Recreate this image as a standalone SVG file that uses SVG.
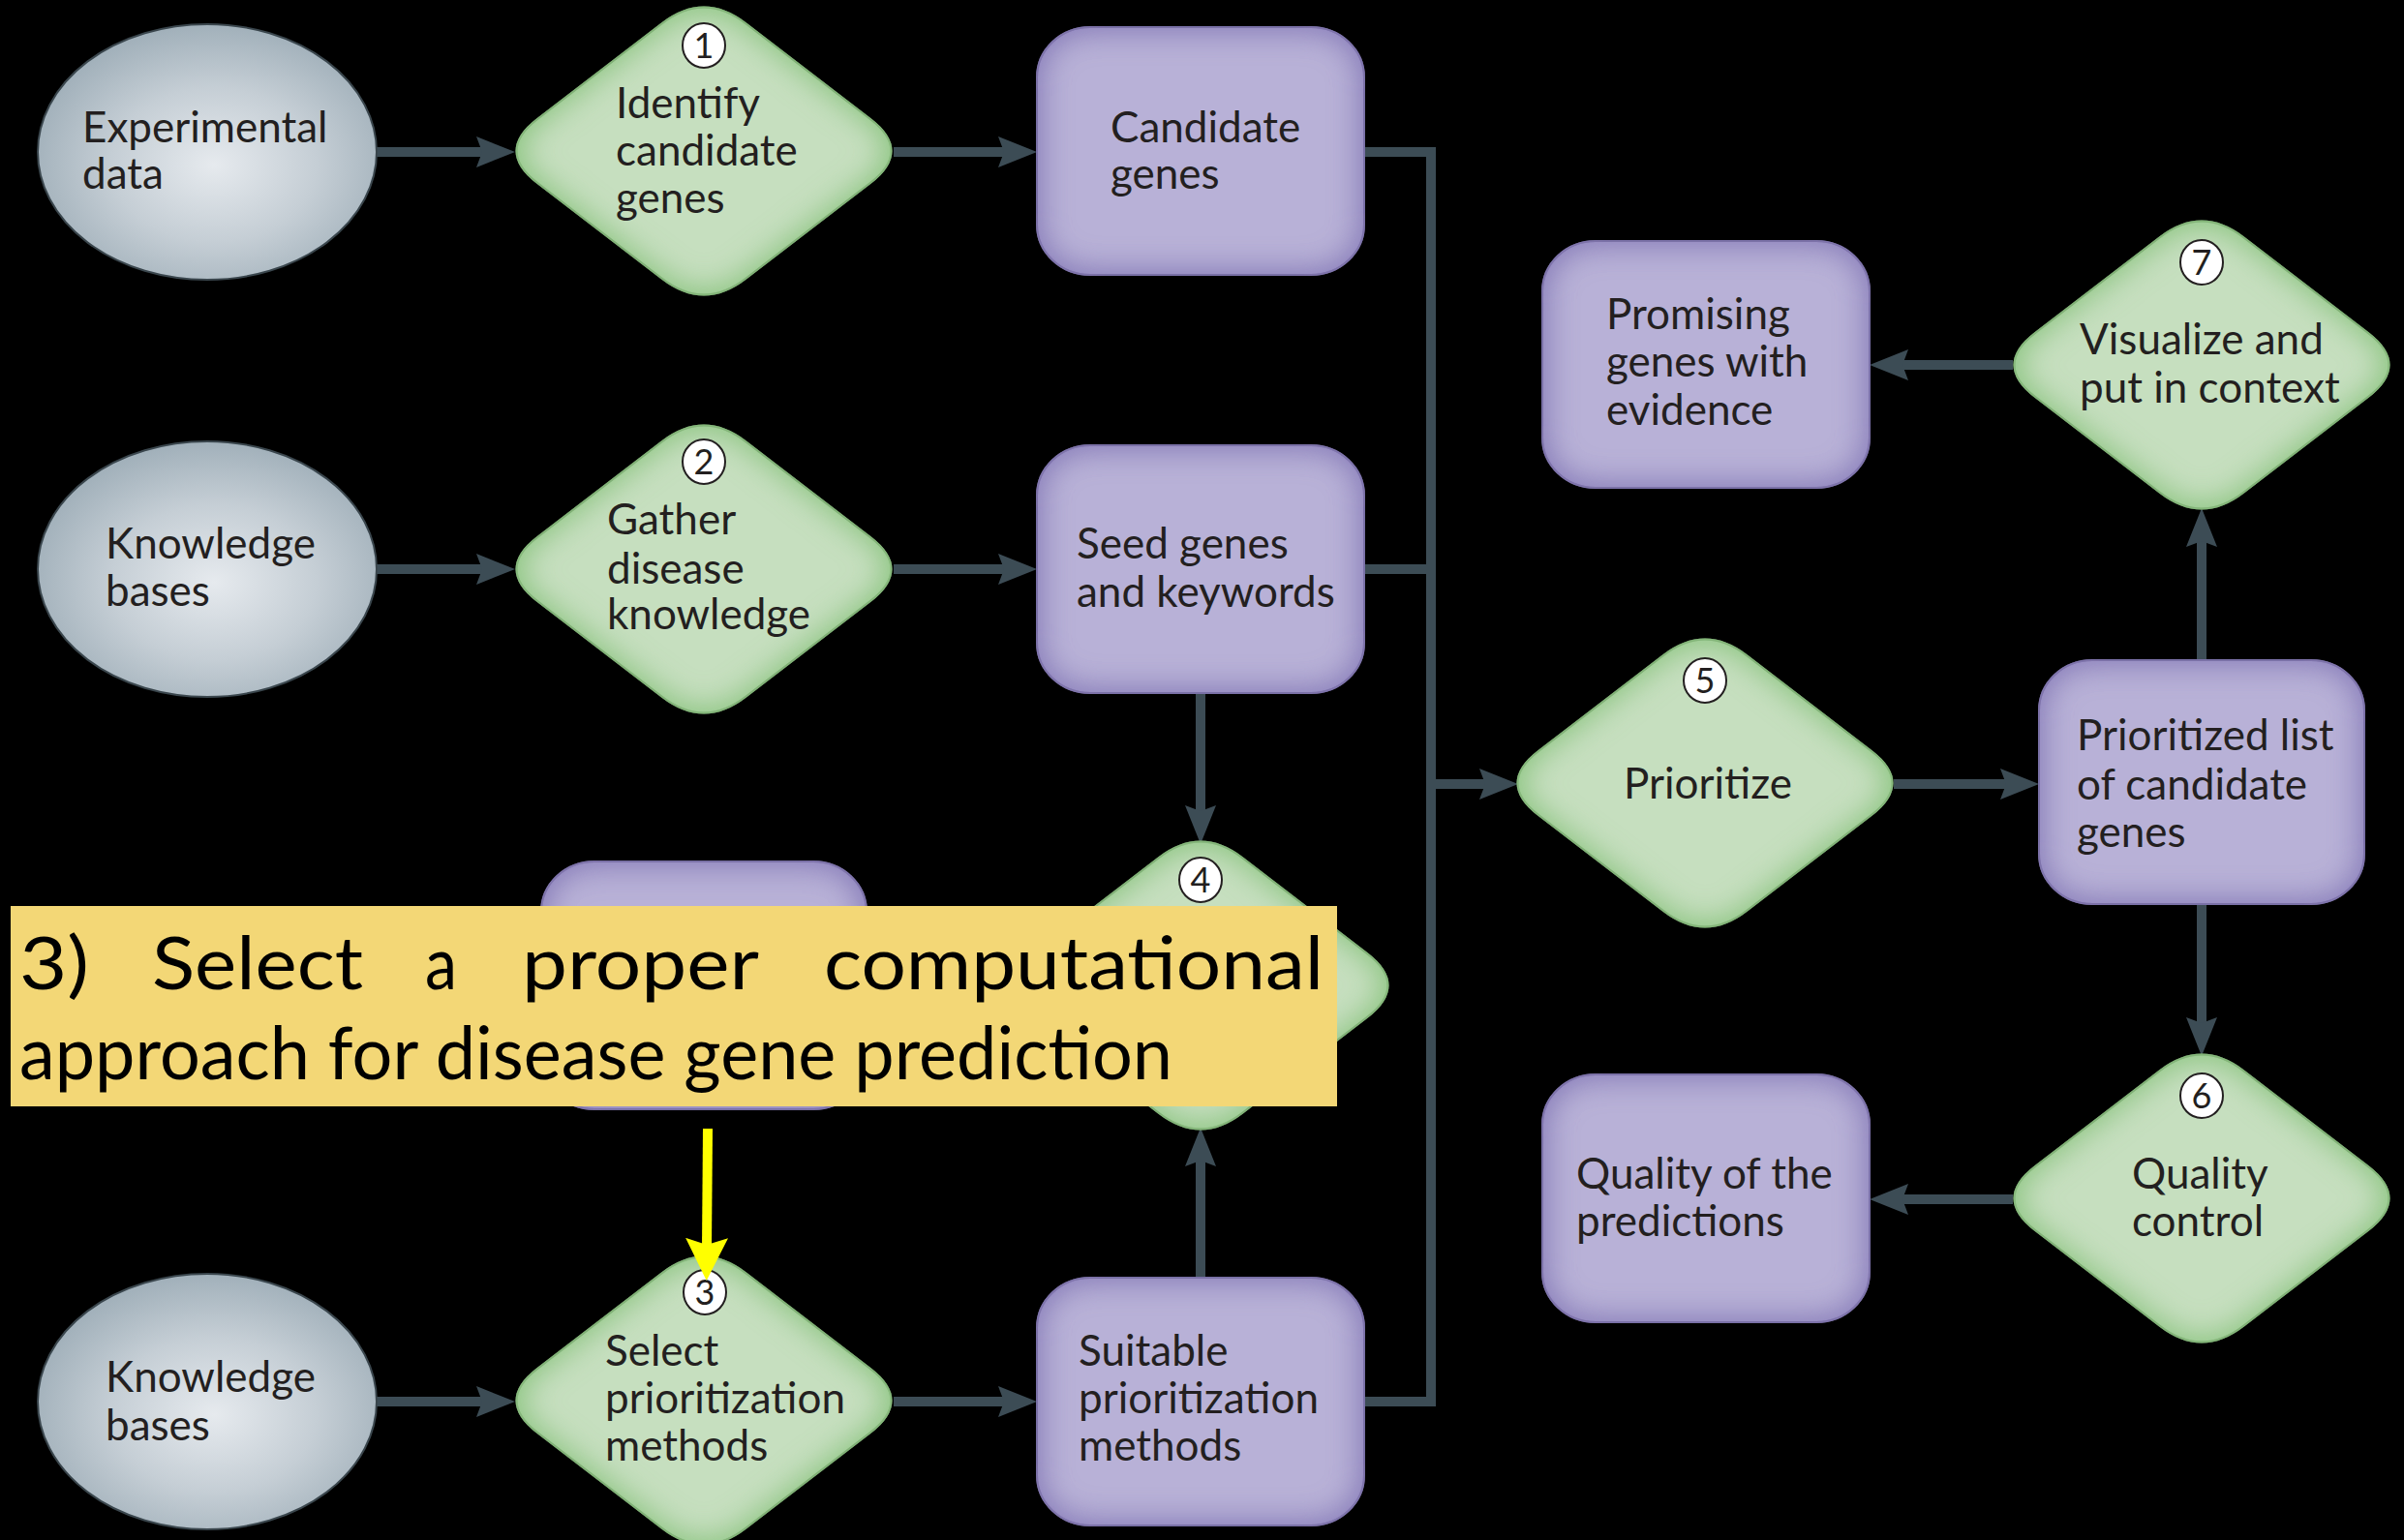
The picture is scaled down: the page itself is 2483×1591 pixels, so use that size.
<svg xmlns="http://www.w3.org/2000/svg" xmlns:xlink="http://www.w3.org/1999/xlink" width="2483" height="1591" viewBox="0 0 2483 1591">
<style>
.lbl{font-family:Lato,"Liberation Sans",sans-serif;font-size:44px;fill:#231f20}
.num{font-family:Lato,"Liberation Sans",sans-serif;font-size:36px;fill:#231f20;text-anchor:middle}
.badge{fill:#ffffff;stroke:#231f20;stroke-width:2}
.ell{fill:url(#gEll);stroke:#3a464d;stroke-width:2}
.dia{fill:#c6dfbf;stroke:#3d5239;stroke-width:2;filter:url(#glowG)}
.box{fill:#b8b1d7;stroke:#3b3550;stroke-width:2;filter:url(#glowP)}
.con{fill:none;stroke:#3c4c55;stroke-width:10;marker-end:url(#ah)}
.bus{fill:none;stroke:#3c4c55;stroke-width:10}
.note{font-family:Lato,"Liberation Sans",sans-serif;font-size:76px;fill:#000000}
</style>
<defs>
<radialGradient id="gEll" cx="0.52" cy="0.55" r="0.55">
<stop offset="0" stop-color="#e6eaee"/>
<stop offset="0.55" stop-color="#c5ced5"/>
<stop offset="1" stop-color="#a1b0ba"/>
</radialGradient>
<filter id="glowG" x="-30%" y="-30%" width="160%" height="160%">
<feFlood flood-color="#92c886" result="c"/>
<feComposite in="c" in2="SourceAlpha" operator="out" result="o"/>
<feGaussianBlur in="o" stdDeviation="17" result="b"/>
<feComposite in="b" in2="SourceAlpha" operator="in" result="i"/>
<feMerge><feMergeNode in="SourceGraphic"/><feMergeNode in="i"/><feMergeNode in="i"/></feMerge>
</filter>
<filter id="glowP" x="-30%" y="-30%" width="160%" height="160%">
<feFlood flood-color="#8b80bc" result="c"/>
<feComposite in="c" in2="SourceAlpha" operator="out" result="o"/>
<feGaussianBlur in="o" stdDeviation="17" result="b"/>
<feComposite in="b" in2="SourceAlpha" operator="in" result="i"/>
<feMerge><feMergeNode in="SourceGraphic"/><feMergeNode in="i"/><feMergeNode in="i"/></feMerge>
</filter>
<path id="dshape" d="M43,-132 L172,-33 Q215,0 172,33 L43,132 Q0,165 -43,132 L-172,33 Q-215,0 -172,-33 L-43,-132 Q0,-165 43,-132 Z"/>
<marker id="ah" viewBox="0 0 40 32" refX="10" refY="16" markerWidth="40" markerHeight="32" markerUnits="userSpaceOnUse" orient="auto">
<path d="M0,0 L40,16 L0,32 L6,16 Z" fill="#3c4c55"/>
</marker>
<marker id="ahY" viewBox="0 0 44 44" refX="11" refY="22" markerWidth="44" markerHeight="44" markerUnits="userSpaceOnUse" orient="auto">
<path d="M0,0 L44,22 L0,44 L7,22 Z" fill="#ffff00"/>
</marker>
</defs>
<rect x="0" y="0" width="2483" height="1591" fill="#000000"/>

<g id="connectors">
<path class="con" d="M388,157 L502,157"/>
<path class="con" d="M923,157 L1041,157"/>
<path class="con" d="M388,588 L502,588"/>
<path class="con" d="M923,588 L1041,588"/>
<path class="con" d="M388,1448 L502,1448"/>
<path class="con" d="M923,1448 L1041,1448"/>
<path class="bus" d="M1409,157 L1478,157 L1478,1448 L1409,1448"/>
<path class="bus" d="M1409,588 L1478,588"/>
<path class="con" d="M1478,810 L1538,810"/>
<path class="con" d="M1240,716 L1240,842"/>
<path class="con" d="M1240,1320 L1240,1195"/>
<path class="con" d="M1956,810 L2076,810"/>
<path class="con" d="M2274,682 L2274,555"/>
<path class="con" d="M2274,934 L2274,1061"/>
<path class="con" d="M2079,377 L1961,377"/>
<path class="con" d="M2079,1239 L1961,1239"/>
</g>

<g id="n-experimental">
<ellipse class="ell" cx="214" cy="157" rx="175" ry="132"/>
<text class="lbl"><tspan x="85" y="147">Experimental</tspan><tspan x="85" y="195">data</tspan></text>
</g>
<g id="n-identify">
<use xlink:href="#dshape" class="dia" transform="translate(727,156)"/>
<ellipse class="badge" cx="727" cy="47" rx="22" ry="23"/>
<text class="num" x="727" y="60">1</text>
<text class="lbl"><tspan x="636" y="122">Identify</tspan><tspan x="636" y="171">candidate</tspan><tspan x="636" y="220">genes</tspan></text>
</g>
<g id="n-candidate">
<rect class="box" x="1071" y="28" width="338" height="256" rx="55" ry="52"/>
<text class="lbl"><tspan x="1147" y="147">Candidate</tspan><tspan x="1147" y="195">genes</tspan></text>
</g>

<g id="n-kb1">
<ellipse class="ell" cx="214" cy="588" rx="175" ry="132"/>
<text class="lbl"><tspan x="109" y="577">Knowledge</tspan><tspan x="109" y="626">bases</tspan></text>
</g>
<g id="n-gather">
<use xlink:href="#dshape" class="dia" transform="translate(727,588)"/>
<ellipse class="badge" cx="727" cy="477" rx="22" ry="23"/>
<text class="num" x="727" y="490">2</text>
<text class="lbl"><tspan x="627" y="552">Gather</tspan><tspan x="627" y="603">disease</tspan><tspan x="627" y="650">knowledge</tspan></text>
</g>
<g id="n-seed">
<rect class="box" x="1071" y="460" width="338" height="256" rx="55" ry="52"/>
<text class="lbl"><tspan x="1112" y="577">Seed genes</tspan><tspan x="1112" y="627">and keywords</tspan></text>
</g>

<g id="n-hidden">
<rect class="box" x="559" y="890" width="336" height="256" rx="55" ry="52"/>
</g>
<g id="n-step4">
<use xlink:href="#dshape" class="dia" transform="translate(1240,1018)"/>
<ellipse class="badge" cx="1240" cy="909" rx="22" ry="23"/>
<text class="num" x="1240" y="922">4</text>
</g>

<g id="n-kb2">
<ellipse class="ell" cx="214" cy="1448" rx="175" ry="132"/>
<text class="lbl"><tspan x="109" y="1438">Knowledge</tspan><tspan x="109" y="1488">bases</tspan></text>
</g>
<g id="n-select">
<use xlink:href="#dshape" class="dia" transform="translate(727,1447)"/>
<ellipse class="badge" cx="728" cy="1335" rx="22" ry="23"/>
<text class="num" x="728" y="1348">3</text>
<text class="lbl"><tspan x="625" y="1411">Select</tspan><tspan x="625" y="1460">prioritization</tspan><tspan x="625" y="1509">methods</tspan></text>
</g>
<g id="n-suitable">
<rect class="box" x="1071" y="1320" width="338" height="256" rx="55" ry="52"/>
<text class="lbl"><tspan x="1114" y="1411">Suitable</tspan><tspan x="1114" y="1460">prioritization</tspan><tspan x="1114" y="1509">methods</tspan></text>
</g>

<g id="n-prioritize">
<use xlink:href="#dshape" class="dia" transform="translate(1761,809)"/>
<ellipse class="badge" cx="1761" cy="703" rx="22" ry="23"/>
<text class="num" x="1761" y="716">5</text>
<text class="lbl"><tspan x="1677" y="825">Prioritize</tspan></text>
</g>
<g id="n-list">
<rect class="box" x="2106" y="682" width="336" height="252" rx="55" ry="52"/>
<text class="lbl"><tspan x="2145" y="775">Prioritized list</tspan><tspan x="2145" y="826">of candidate</tspan><tspan x="2145" y="875">genes</tspan></text>
</g>
<g id="n-visualize">
<use xlink:href="#dshape" class="dia" transform="translate(2274,377)"/>
<ellipse class="badge" cx="2274" cy="271" rx="22" ry="23"/>
<text class="num" x="2274" y="284">7</text>
<text class="lbl"><tspan x="2148" y="366">Visualize and</tspan><tspan x="2148" y="416">put in context</tspan></text>
</g>
<g id="n-promising">
<rect class="box" x="1593" y="249" width="338" height="255" rx="55" ry="52"/>
<text class="lbl"><tspan x="1659" y="340">Promising</tspan><tspan x="1659" y="389">genes with</tspan><tspan x="1659" y="439">evidence</tspan></text>
</g>
<g id="n-qc">
<use xlink:href="#dshape" class="dia" transform="translate(2274,1238)"/>
<ellipse class="badge" cx="2274" cy="1132" rx="22" ry="23"/>
<text class="num" x="2274" y="1145">6</text>
<text class="lbl"><tspan x="2202" y="1228">Quality</tspan><tspan x="2202" y="1277">control</tspan></text>
</g>
<g id="n-quality">
<rect class="box" x="1593" y="1110" width="338" height="256" rx="55" ry="52"/>
<text class="lbl"><tspan x="1628" y="1228">Quality of the</tspan><tspan x="1628" y="1277">predictions</tspan></text>
</g>

<g id="annotation">
<rect x="11" y="936" width="1370" height="207" fill="#f3d776"/>
<text class="note" x="20" y="1022" textLength="72" lengthAdjust="spacingAndGlyphs">3)</text>
<text class="note" x="157" y="1022" textLength="218" lengthAdjust="spacingAndGlyphs">Select</text>
<text class="note" x="439" y="1022" textLength="33" lengthAdjust="spacingAndGlyphs">a</text>
<text class="note" x="539" y="1022" textLength="245" lengthAdjust="spacingAndGlyphs">proper</text>
<text class="note" x="851" y="1022" textLength="516" lengthAdjust="spacingAndGlyphs">computational</text>
<text class="note" x="20" y="1115" textLength="1191" lengthAdjust="spacingAndGlyphs">approach for disease gene prediction</text>
<path d="M731,1166 L730,1290" fill="none" stroke="#ffff00" stroke-width="10" marker-end="url(#ahY)"/>
</g>
</svg>
